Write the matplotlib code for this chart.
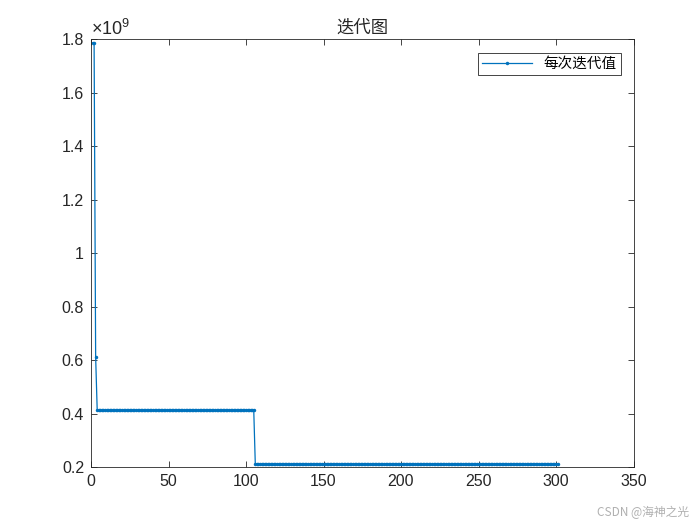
import numpy as np
import matplotlib.pyplot as plt
from matplotlib.ticker import FuncFormatter

# iteration history: step values and how many iterations each lasted
step_values = [1.786e9, 0.612e9, 0.413e9, 0.211e9]
step_lengths = [2, 1, 102, 196]
x_ticks = [0, 50, 100, 150, 200, 250, 300, 350]
y_ticks = [0.2e9, 0.4e9, 0.6e9, 0.8e9, 1.0e9, 1.2e9, 1.4e9, 1.6e9, 1.8e9]

best = np.repeat(step_values, step_lengths)
iters = np.arange(1, len(best) + 1)

plt.rcParams['font.family'] = ['Liberation Sans', 'Noto Sans CJK SC', 'DejaVu Sans']
plt.rcParams['mathtext.fontset'] = 'custom'
plt.rcParams['mathtext.rm'] = 'Liberation Sans'
cjk = ['Noto Sans CJK SC', 'DejaVu Sans']
dark = '#262626'

fig = plt.figure(figsize=(7, 5.25), dpi=100)
ax = fig.add_axes([0.13, 0.11, 0.775, 0.815])

ax.plot(iters, best, '.-', color='#0072BD', lw=0.9, markersize=5, mew=0,
        label='每次迭代值')

ax.set_xlim(0, 350)
ax.set_ylim(0.2e9, 1.8e9)
ax.set_xticks(x_ticks)
ax.set_yticks(y_ticks)
ax.yaxis.set_major_formatter(FuncFormatter(lambda v, p: '%g' % round(v / 1e9, 2)))

ax.tick_params(direction='in', length=4, width=0.6, colors=dark, labelsize=11.5,
               top=True, right=True, pad=5)
for s in ax.spines.values():
    s.set_color(dark)
    s.set_linewidth(0.6)

ax.text(0.0, 1.0, r'$\times\mathrm{10}^{\mathrm{9}}$', transform=ax.transAxes, fontsize=13,
        color=dark, ha='left', va='bottom')
ax.set_title('迭代图', fontsize=12.5, family=cjk, color=dark, pad=5)

leg = ax.legend(loc='upper right', prop={'family': cjk, 'size': 10.5},
                fancybox=False, edgecolor=dark, framealpha=1,
                bbox_to_anchor=(0.977, 0.969), borderaxespad=0, handlelength=3.4,
                borderpad=0.3)
leg.get_frame().set_linewidth(0.6)

fig.text(0.985, 0.012, 'CSDN @海神之光', family=cjk, fontsize=8.5, color='#b0b0b0',
         ha='right', va='bottom')

fig.savefig('out.png', dpi=100)
